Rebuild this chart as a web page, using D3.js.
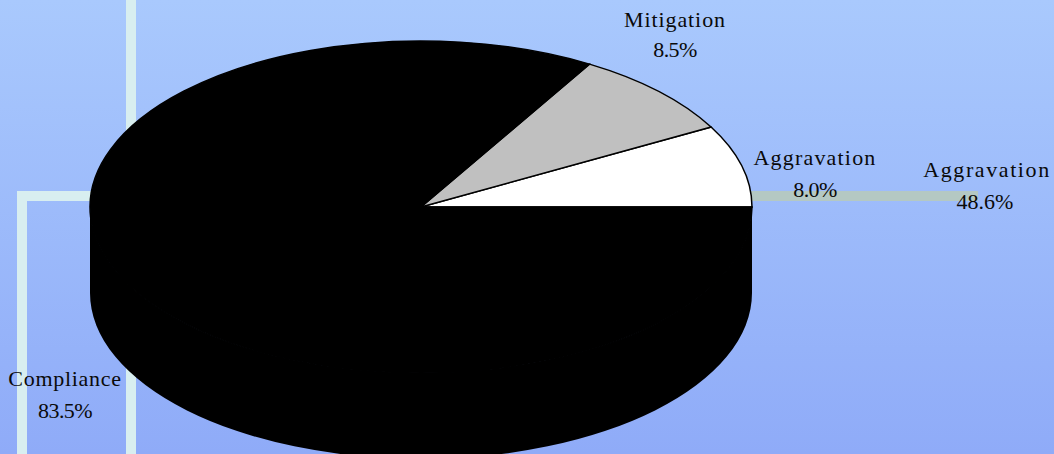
<!DOCTYPE html>
<html>
<head>
<meta charset="utf-8">
<script src="https://cdn.jsdelivr.net/npm/d3@7"></script>
<style>
  html, body { margin: 0; padding: 0; overflow: hidden; }
  text { font-family: "Liberation Serif", "Times New Roman", serif; font-size: 22px; fill: #0a0a0a; }
</style>
</head>
<body>
<div id="chart"></div>
<script>
// slice data, in drawing order (counter-clockwise from 3 o'clock)
const categories = ["Aggravation", "Mitigation", "Compliance"];
const shares = [8.0, 8.5, 83.5];
const sliceColors = ["#ffffff", "#c0c0c0", "#000000"];
// stray label left on the right side of the chart
const extraLabel = "Aggravation";
const extraShare = 48.6;

const WIDTH = 1054, HEIGHT = 454;
const cx = 421, cy = 207, rx = 331, ry = 166, depth = 86;

// label layout: centre x, first baseline y, line gap, word spacing
const labelPos = {
    "Aggravation": [815, 165, 32, 1.2],
    "Mitigation": [675, 27, 30, 0.9],
    "Compliance": [65, 386, 32, 0.7]
};

let svg = d3.select("#chart").append("svg")
    .attr("width", WIDTH).attr("height", HEIGHT);

let defs = svg.append("defs");
let grad = defs.append("linearGradient").attr("id", "bg")
    .attr("x1", 0).attr("y1", 0).attr("x2", 0).attr("y2", 1);
grad.append("stop").attr("offset", "0%").attr("stop-color", "#a9c9fd");
grad.append("stop").attr("offset", "100%").attr("stop-color", "#8fabf8");
svg.append("rect").attr("width", WIDTH).attr("height", HEIGHT).attr("fill", "url(#bg)");

// leader lines behind the pie
let leaders = svg.append("g").attr("fill", "none").attr("stroke-width", 10)
    .attr("stroke-linejoin", "miter");
leaders.append("path").attr("stroke", "#d8eef0")
    .attr("d", d3.line()([[131, 0], [131, HEIGHT + 5]]));
leaders.append("path").attr("stroke", "#d8eef0")
    .attr("d", d3.line()([[22, HEIGHT + 5], [22, 196], [cx, 196]]));
leaders.append("path").attr("stroke", "#b4c8c3")
    .attr("d", d3.line()([[cx, 196], [978, 196]]));

// side of the pie (front half is all compliance)
svg.append("path")
    .attr("fill", "#000")
    .attr("d", "M" + (cx - rx) + "," + cy +
        " A" + rx + "," + ry + " 0 0 0 " + (cx + rx) + "," + cy +
        " L" + (cx + rx) + "," + (cy + depth) +
        " A" + rx + "," + ry + " 0 0 1 " + (cx - rx) + "," + (cy + depth) + " Z");

// top face
let pie = d3.pie().sort(null)
    .startAngle(Math.PI / 2).endAngle(Math.PI / 2 - 2 * Math.PI);
let arcs = pie(shares);
let arc = d3.arc().innerRadius(0).outerRadius(rx);

let topFace = svg.append("g")
    .attr("transform", "translate(" + cx + "," + cy + ") scale(1," + (ry / rx) + ")");
topFace.selectAll("path.slice")
    .data(arcs)
    .enter().append("path")
    .attr("class", "slice")
    .attr("d", arc)
    .attr("fill", (d, i) => sliceColors[i])
    .attr("stroke", "#000")
    .attr("stroke-width", 1.5)
    .attr("vector-effect", "non-scaling-stroke");

// labels
let labels = svg.append("g");
categories.forEach(function (c, i) {
    let p = labelPos[c];
    let t = labels.append("text").attr("text-anchor", "middle");
    t.append("tspan").attr("x", p[0]).attr("y", p[1]).attr("letter-spacing", p[3] + "px").text(c);
    t.append("tspan").attr("x", p[0]).attr("y", p[1] + p[2]).attr("letter-spacing", "-0.6px")
        .text(shares[i].toFixed(1) + "%");
});
let ex = labels.append("text").attr("text-anchor", "middle");
ex.append("tspan").attr("x", 987).attr("y", 177).attr("letter-spacing", "1.6px").text(extraLabel);
ex.append("tspan").attr("x", 985).attr("y", 209).text(extraShare.toFixed(1) + "%");
</script>
</body>
</html>
